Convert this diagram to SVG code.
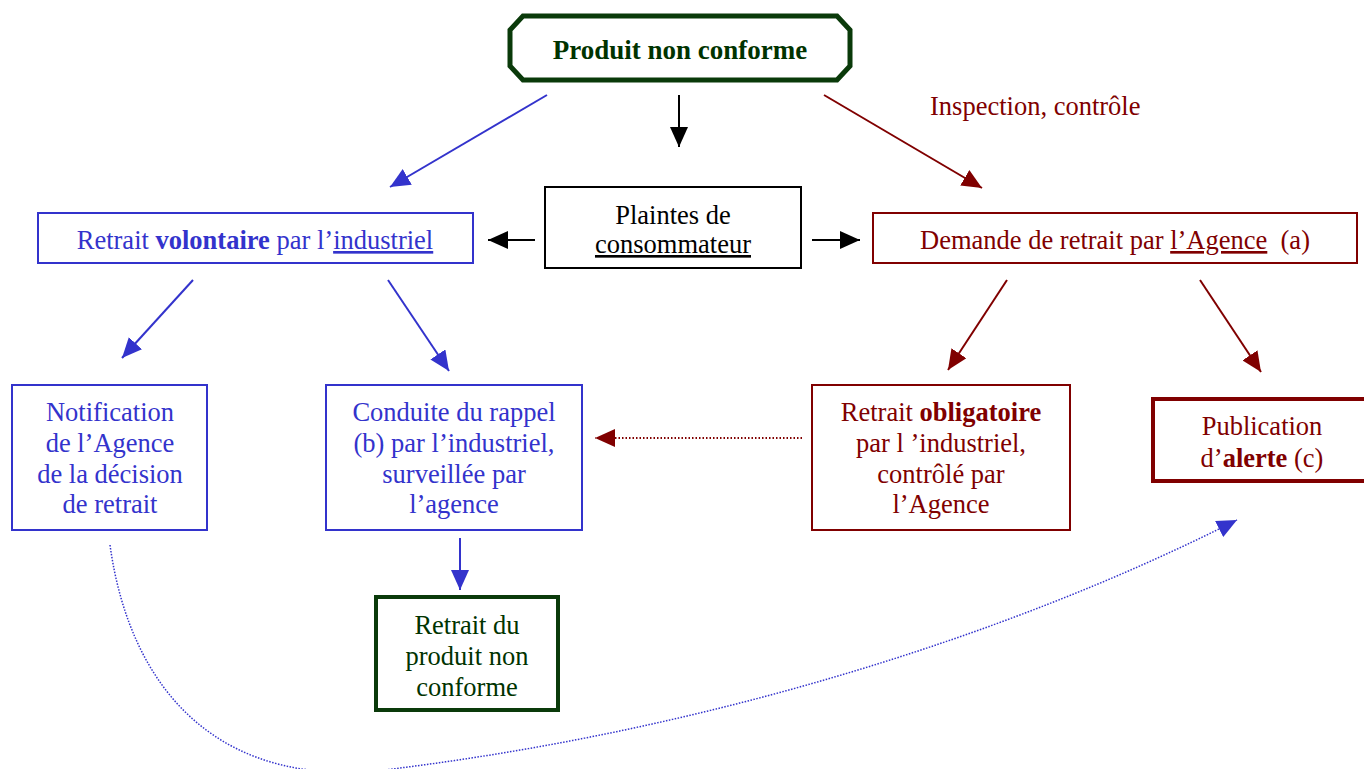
<svg xmlns="http://www.w3.org/2000/svg" width="1364" height="769" viewBox="0 0 1364 769">
<style>
text{font-family:"Liberation Serif","Times New Roman",serif;font-size:26.5px;text-anchor:middle}
.b{fill:#3333cc}.r{fill:#800000}.g{fill:#003300}.k{fill:#000}
.bx{fill:#fff;stroke-width:2}
.sb{stroke:#3333cc}.sr{stroke:#800000}.sk{stroke:#000}
.bold{font-weight:bold}
.u{text-decoration:underline}
</style>
<defs>
<marker id="ab" viewBox="0 0 20 18" refX="20" refY="9" markerWidth="20" markerHeight="18" markerUnits="userSpaceOnUse" orient="auto"><path d="M0,0L20,9L0,18z" fill="#3333cc"/></marker>
<marker id="ak" viewBox="0 0 20 18" refX="20" refY="9" markerWidth="20" markerHeight="18" markerUnits="userSpaceOnUse" orient="auto"><path d="M0,0L20,9L0,18z" fill="#000"/></marker>
<marker id="ar" viewBox="0 0 20 18" refX="20" refY="9" markerWidth="20" markerHeight="18" markerUnits="userSpaceOnUse" orient="auto"><path d="M0,0L20,9L0,18z" fill="#800000"/></marker>
</defs>

<g id="connectors">
<line x1="547" y1="95" x2="390" y2="187" stroke="#3333cc" stroke-width="2" marker-end="url(#ab)"/>
<line x1="679" y1="95" x2="679" y2="147" stroke="#000" stroke-width="2" marker-end="url(#ak)"/>
<line x1="824" y1="95" x2="982" y2="188" stroke="#800000" stroke-width="2" marker-end="url(#ar)"/>
<line x1="535" y1="240" x2="488" y2="240" stroke="#000" stroke-width="2" marker-end="url(#ak)"/>
<line x1="812" y1="240" x2="860" y2="240" stroke="#000" stroke-width="2" marker-end="url(#ak)"/>
<line x1="193" y1="280" x2="122" y2="358" stroke="#3333cc" stroke-width="2" marker-end="url(#ab)"/>
<line x1="388" y1="280" x2="449" y2="371" stroke="#3333cc" stroke-width="2" marker-end="url(#ab)"/>
<line x1="1007" y1="280" x2="948" y2="370" stroke="#800000" stroke-width="2" marker-end="url(#ar)"/>
<line x1="1200" y1="280" x2="1261" y2="372" stroke="#800000" stroke-width="2" marker-end="url(#ar)"/>
<line x1="802" y1="438" x2="595" y2="438" stroke="#800000" stroke-width="2" stroke-dasharray="1.5 2" marker-end="url(#ar)"/>
<line x1="460" y1="538" x2="460" y2="590" stroke="#3333cc" stroke-width="2" marker-end="url(#ab)"/>
<path d="M110,545 C130,690 220,795 400,768 C700,730 1000,640 1237,520" fill="none" stroke="#3333cc" stroke-width="1.5" stroke-dasharray="1.5 1.5" marker-end="url(#ab)"/>
<text x="930" y="115" class="r" style="text-anchor:start">Inspection, contrôle</text>
</g>

<g id="n-produit">
<path d="M523,16 L837,16 L850,30 L850,66 L837,80 L523,80 L510,66 L510,30 Z" fill="#fff" stroke="#0a3a0a" stroke-width="5"/>
<text x="680" y="59" class="g bold" style="font-size:27px">Produit non conforme</text>
</g>

<g id="n-volontaire">
<rect x="38" y="213" width="435" height="50" class="bx sb"/>
<text x="255" y="249" class="b">Retrait <tspan class="bold">volontaire</tspan> par l’<tspan class="u">industriel</tspan></text>
</g>

<g id="n-plaintes">
<rect x="545" y="187" width="256" height="81" class="bx sk"/>
<text x="673" y="224" class="k">Plaintes de</text>
<text x="673" y="253" class="k u">consommateur</text>
</g>

<g id="n-demande">
<rect x="873" y="213" width="484" height="50" class="bx sr"/>
<text x="1115" y="249" class="r" xml:space="preserve">Demande de retrait par <tspan class="u">l’Agence</tspan>  (a)</text>
</g>

<g id="n-notification">
<rect x="12" y="385" width="195" height="145" class="bx sb"/>
<text x="110" y="421" class="b">Notification</text>
<text x="110" y="452" class="b">de l’Agence</text>
<text x="110" y="483" class="b">de la décision</text>
<text x="110" y="513" class="b">de retrait</text>
</g>

<g id="n-conduite">
<rect x="326" y="385" width="256" height="145" class="bx sb"/>
<text x="454" y="421" class="b">Conduite du rappel</text>
<text x="454" y="452" class="b">(b) par l’industriel,</text>
<text x="454" y="483" class="b">surveillée par</text>
<text x="454" y="513" class="b">l’agence</text>
</g>

<g id="n-obligatoire">
<rect x="812" y="385" width="258" height="145" class="bx sr"/>
<text x="941" y="421" class="r">Retrait <tspan class="bold">obligatoire</tspan></text>
<text x="941" y="452" class="r">par l ’industriel,</text>
<text x="941" y="483" class="r">contrôlé par</text>
<text x="941" y="513" class="r">l’Agence</text>
</g>

<g id="n-publication">
<rect x="1153" y="399" width="220" height="82" fill="#fff" stroke="#800000" stroke-width="4"/>
<text x="1262" y="435" class="r">Publication</text>
<text x="1262" y="467" class="r">d’<tspan class="bold">alerte</tspan> (c)</text>
</g>

<g id="n-retrait">
<rect x="376" y="597" width="182" height="113" fill="#fff" stroke="#0a3a0a" stroke-width="4"/>
<text x="467" y="634" class="g">Retrait du</text>
<text x="467" y="665" class="g">produit non</text>
<text x="467" y="696" class="g">conforme</text>
</g>
</svg>
